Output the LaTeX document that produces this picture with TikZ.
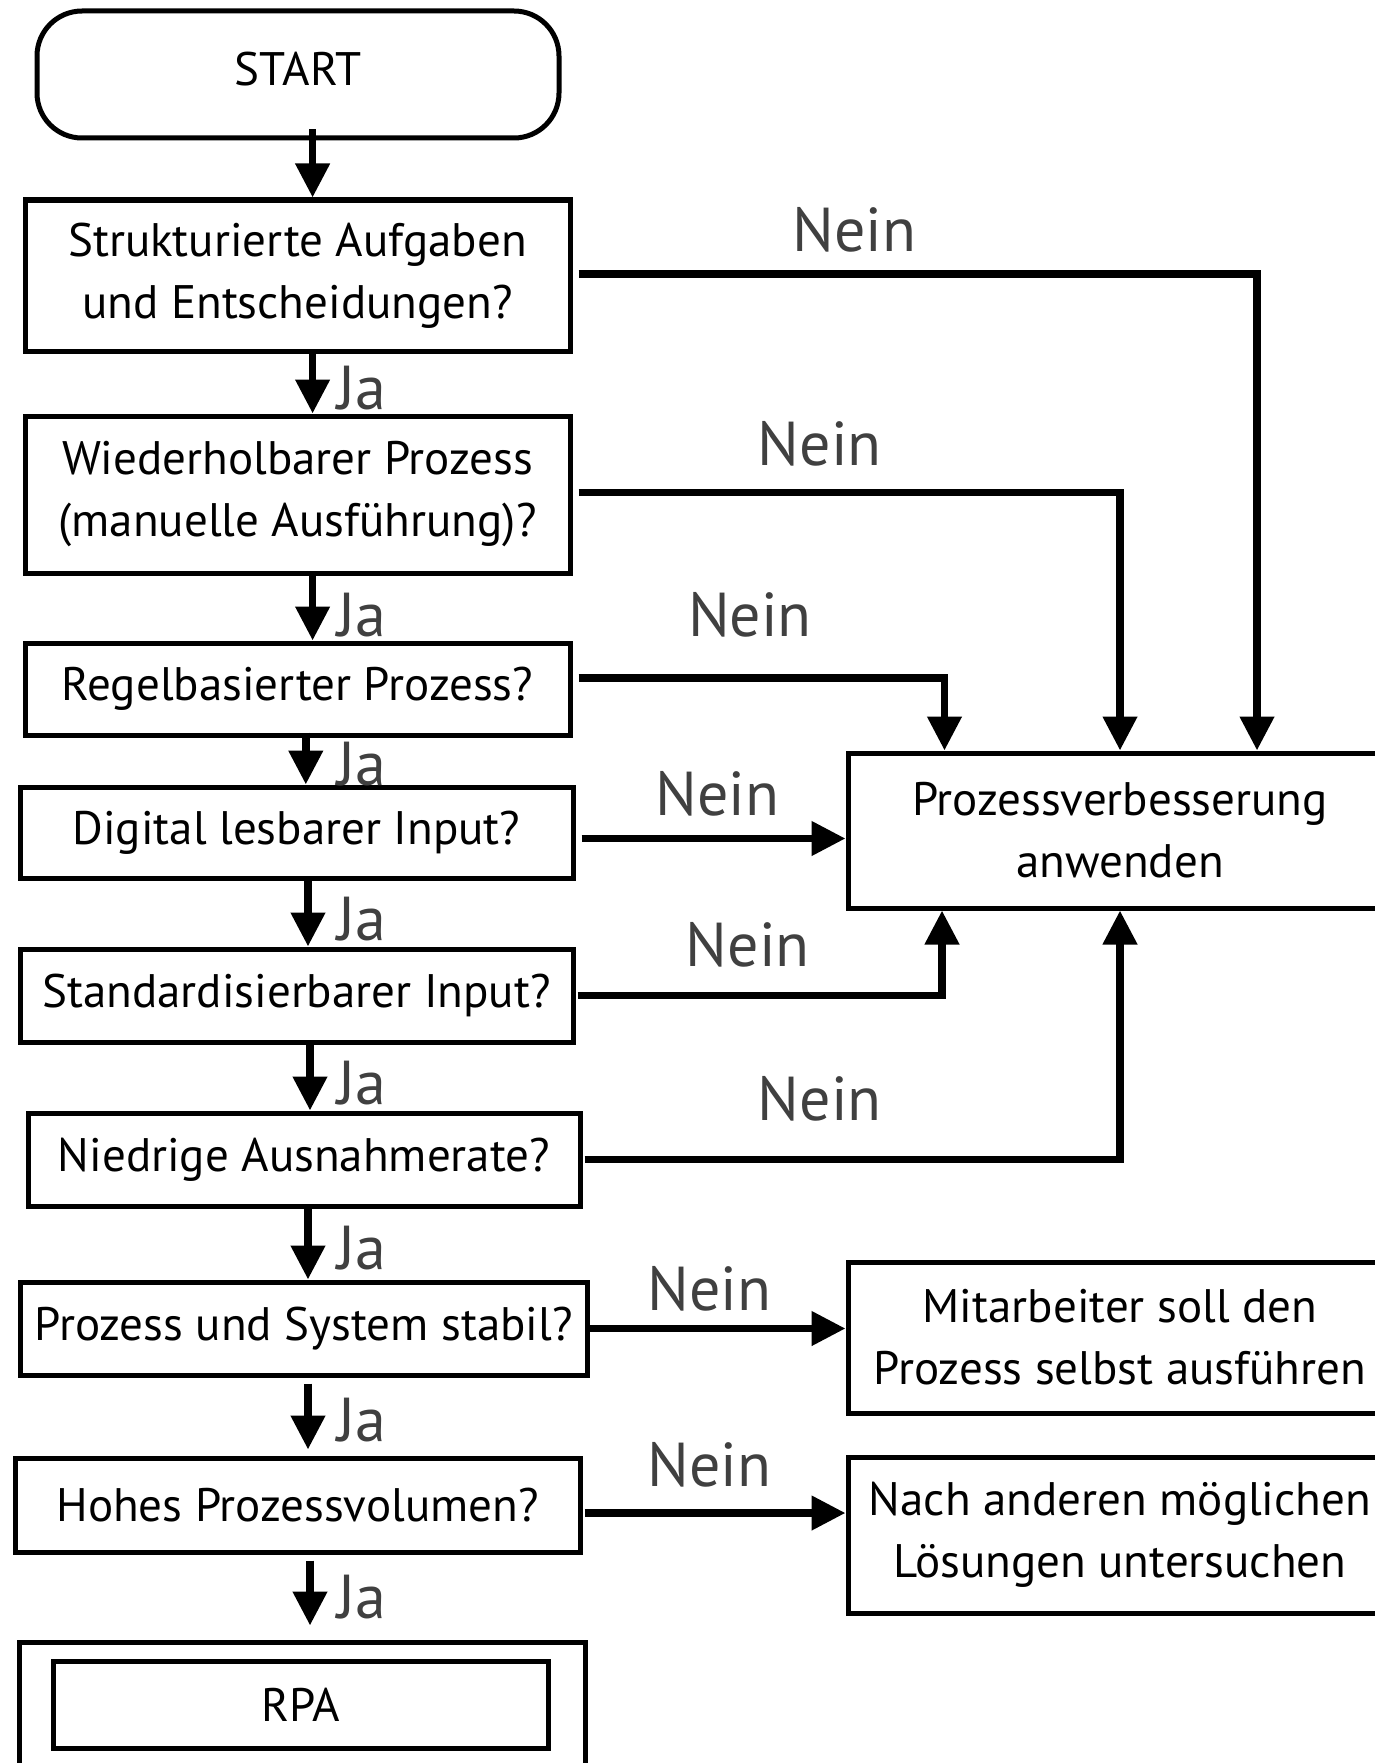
\documentclass[tikz,border=0pt]{standalone}
\usepackage{fontspec}
\setmainfont{PT Sans}
\usetikzlibrary{arrows.meta}
\begin{document}
\begin{tikzpicture}[x=1pt,y=-1pt,
  box/.style={draw, line width=5pt, rectangle, inner sep=0pt, align=center,
    font=\fontsize{47}{62}\selectfont},
  arr/.style={line width=7.5pt, -{Triangle[width=33pt,length=34pt]}},
  lbl/.style={text=black!75, font=\fontsize{62}{62}\selectfont, inner sep=0pt}
]
\useasboundingbox (0,0) rectangle (1374,1763);
\fill[white] (0,0) rectangle (1374,1763);

% decision chain on the left
\node[box, rounded corners=45pt, minimum width=522pt, minimum height=127pt] (start) at (298,74.5) {};
\node[font=\fontsize{47}{62}\selectfont, inner sep=0pt] (starttext) at (298,69) {START};
\node[box, minimum width=545pt, minimum height=151pt] (q1) at (297.5,275.5) {Strukturierte Aufgaben\\und Entscheidungen?};
\node[box, minimum width=545pt, minimum height=157pt] (q2) at (297.5,494.5) {Wiederholbarer Prozess\\(manuelle Ausführung)?};
\node[box, minimum width=545pt, minimum height=92pt] (q3) at (297.5,689) {Regelbasierter Prozess?};
\node[box, minimum width=553pt, minimum height=91pt] (q4) at (296.5,832.5) {Digital lesbarer Input?};
\node[box, minimum width=553pt, minimum height=93pt] (q5) at (296.5,995.5) {Standardisierbarer Input?};
\node[box, minimum width=552pt, minimum height=93pt] (q6) at (304,1159.5) {Niedrige Ausnahmerate?};
\node[box, minimum width=567pt, minimum height=93pt] (q7) at (303.5,1328.5) {Prozess und System stabil?};
\node[box, minimum width=565pt, minimum height=94pt] (q8) at (297.5,1505) {Hohes Prozessvolumen?};
\node[box, minimum width=566pt, minimum height=132pt] (rpa) at (302,1708) {};
\node[box, minimum width=495pt, minimum height=87pt] (rpain) at (300.5,1704.5) {RPA};

% outcomes on the right
\node[box, minimum width=544pt, minimum height=155pt] (pv) at (1120,830.5) {Prozessverbesserung\\anwenden};
\node[box, minimum width=544pt, minimum height=151pt] (mit) at (1120,1337.5) {Mitarbeiter soll den\\Prozess selbst ausführen};
\node[box, minimum width=544pt, minimum height=156pt] (nach) at (1120,1535) {Nach anderen möglichen\\Lösungen untersuchen};

% x positions of the "Ja" arrows
\coordinate (xa) at (312.6,0);
\coordinate (xb) at (305.8,0);
\coordinate (xc) at (308,0);
\coordinate (xd) at (310,0);

\draw[arr] ([yshift=11pt]start.south -| xa) -- (q1.north -| xa);
\draw[arr] (q1.south -| xa) -- (q2.north -| xa);
\draw[arr] (q2.south -| xa) -- (q3.north -| xa);
\draw[arr] ([yshift=5pt]q3.south -| xb) -- (q4.north -| xb);
\draw[arr] (q4.south -| xc) -- (q5.north -| xc);
\draw[arr] (q5.south -| xd) -- (q6.north -| xd);
\draw[arr] (q6.south -| xc) -- (q7.north -| xc);
\draw[arr, shorten <=6pt, shorten >=6pt] (q7.south -| xc) -- (q8.north -| xc);
\draw[arr, shorten <=6pt, shorten >=14pt] (q8.south -| xd) -- (rpa.north -| xd);

\node[lbl, anchor=west] at (337,388) {Ja};
\node[lbl, anchor=west] at (337,615) {Ja};
\node[lbl, anchor=west] at (337,764.6) {Ja};
\node[lbl, anchor=west] at (337,918.6) {Ja};
\node[lbl, anchor=west] at (337,1082.8) {Ja};
\node[lbl, anchor=west] at (337,1248) {Ja};
\node[lbl, anchor=west] at (337,1420) {Ja};
\node[lbl, anchor=west] at (337,1596.6) {Ja};

% "Nein" branches
\draw[arr, shorten <=6pt] ([yshift=1.5pt]q1.east) -| ([xshift=137pt]pv.north);
\draw[arr, shorten <=6pt] ([yshift=2pt]q2.east) -| (pv.north);
\draw[arr, shorten <=6pt] ([yshift=11pt]q3.east) -| ([xshift=-175.5pt]pv.north);
\draw[arr, shorten <=6pt] ([yshift=-6pt]q4.east) -- ([yshift=-6pt]q4.east -| pv.west);
\draw[arr, shorten <=2pt] (q5.east) -| ([xshift=-178pt]pv.south);
\draw[arr, shorten <=2pt] (q6.east) -| (pv.south);
\draw[arr] (q7.east) -- (q7.east -| mit.west);
\draw[arr, shorten <=2pt] ([yshift=-8pt]q8.east) -- ([yshift=-8pt]q8.east -| nach.west);

\node[lbl] at (854.5,229.4) {Nein};
\node[lbl] at (819.7,444) {Nein};
\node[lbl] at (750,615) {Nein};
\node[lbl] at (717.4,793.8) {Nein};
\node[lbl] at (747.7,944.5) {Nein};
\node[lbl] at (819.7,1098.5) {Nein};
\node[lbl] at (709.5,1288.6) {Nein};
\node[lbl] at (709.5,1465) {Nein};
\end{tikzpicture}
\end{document}
